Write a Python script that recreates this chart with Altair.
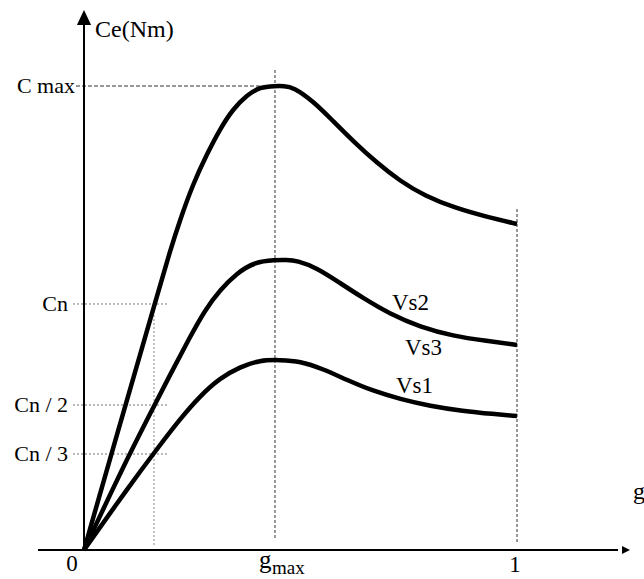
import altair as alt
import pandas as pd

# ---------------- data (slip g, torque C relative to Cmax) ----------------
top_g = [0.0, 0.0831, 0.1686, 0.1986, 0.2217, 0.2517, 0.2841, 0.3141, 0.3441, 0.3764,
         0.4065, 0.4411, 0.4619, 0.4827, 0.5289, 0.5751, 0.6212, 0.6767, 0.7298, 0.7875,
         0.8568, 0.9307, 1.0]
top_c = [0.0, 0.2716, 0.5474, 0.6444, 0.7112, 0.7888, 0.8534, 0.9073, 0.9504, 0.9806,
         0.9978, 1.0, 1.0, 0.9978, 0.9677, 0.9246, 0.8815, 0.8341, 0.7953, 0.7629,
         0.7371, 0.7177, 0.7026]

mid_g = [0.0, 0.0901, 0.1524, 0.1986, 0.2448, 0.2794, 0.3141, 0.3533, 0.3949, 0.4411,
         0.4665, 0.4919, 0.5381, 0.5912, 0.6443, 0.7067, 0.7760, 0.8522, 0.9307, 1.0]
mid_c = [0.0, 0.1789, 0.2931, 0.3772, 0.4591, 0.5172, 0.5603, 0.5970, 0.6207, 0.6250,
         0.6250, 0.6240, 0.6078, 0.5754, 0.5431, 0.5086, 0.4806, 0.4612, 0.4504, 0.4418]

low_g = [0.0, 0.1062, 0.1686, 0.2217, 0.2679, 0.3141, 0.3603, 0.4065, 0.4527, 0.4988,
         0.5520, 0.6074, 0.6674, 0.7298, 0.7991, 0.8753, 0.9446, 1.0]
low_c = [0.0, 0.1401, 0.2177, 0.2823, 0.3319, 0.3707, 0.3944, 0.4095, 0.4095, 0.4073,
         0.3901, 0.3664, 0.3427, 0.3254, 0.3103, 0.2996, 0.2931, 0.2888]

# reference torque levels and their labels
level_names = ["C max", "Cn", "Cn / 2", "Cn / 3"]
level_values = [1.0, 0.5302, 0.3125, 0.2069]

# slip references
g_small = 0.1617
g_max = 0.4411
g_one = 1.0

curve_labels = ["Vs2", "Vs3", "Vs1"]

# ---------------- layout (pixel -> data mapping) ----------------
W, H = 644, 579
OX, OY = 84.0, 550.0       # origin in pixels
SX, SY = 433.0, 464.0      # pixels per unit


def gx(px):
    return (px - OX) / SX


def cy(py):
    return (OY - py) / SY


XDOM = [gx(0), gx(W)]
YDOM = [cy(H), cy(0)]

xs = alt.Scale(domain=XDOM, nice=False, zero=False)
ys = alt.Scale(domain=YDOM, nice=False, zero=False)
FONT = "Liberation Serif"


def X(f="x"):
    return alt.X(f"{f}:Q", scale=xs, axis=None)


def Y(f="y"):
    return alt.Y(f"{f}:Q", scale=ys, axis=None)


# curves
rows = []
for name, gg, cc in [("top", top_g, top_c), ("mid", mid_g, mid_c), ("low", low_g, low_c)]:
    for a, b in zip(gg, cc):
        rows.append({"x": a, "y": b, "curve": name})
curves_df = pd.DataFrame(rows)

curves = alt.Chart(curves_df).mark_line(
    color="black", strokeWidth=4.5, interpolate="basis", strokeCap="butt", strokeJoin="round"
).encode(x=X(), y=Y(), detail="curve:N")

# horizontal reference lines
cmax_line = alt.Chart(pd.DataFrame({"x": [gx(76)], "x2": [gx(262)], "y": [level_values[0]]})).mark_rule(
    color="#333333", strokeWidth=1, strokeDash=[4, 2]
).encode(x=X(), x2="x2:Q", y=Y())

cn_df = pd.DataFrame({"x": [gx(73)] * 3, "x2": [gx(168)] * 3, "y": level_values[1:]})
cn_lines = alt.Chart(cn_df).mark_rule(color="#777777", strokeWidth=1, strokeDash=[2, 2]).encode(
    x=X(), x2="x2:Q", y=Y()
)

# vertical reference lines
v_small = alt.Chart(pd.DataFrame({"x": [g_small], "y": [cy(545)], "y2": [level_values[1]]})).mark_rule(
    color="#888888", strokeWidth=1, strokeDash=[2, 2]
).encode(x=X(), y=Y(), y2="y2:Q")

v_dark = alt.Chart(pd.DataFrame({"x": [g_max, g_one], "y": [cy(538), cy(542)], "y2": [cy(69), cy(208)]})).mark_rule(
    color="#333333", strokeWidth=1, strokeDash=[3, 2]
).encode(x=X(), y=Y(), y2="y2:Q")

# axes
x_axis = alt.Chart(pd.DataFrame({"x": [gx(38)], "x2": [gx(618)], "y": [0.0]})).mark_rule(
    color="black", strokeWidth=2
).encode(x=X(), x2="x2:Q", y=Y())
y_axis = alt.Chart(pd.DataFrame({"x": [0.0], "y": [cy(551)], "y2": [cy(22)]})).mark_rule(
    color="black", strokeWidth=2
).encode(x=X(), y=Y(), y2="y2:Q")

arrow_up = alt.Chart(pd.DataFrame({"x": [0.0], "y": [cy(10)]})).mark_point(
    shape="M0,0L-0.95,2L0.95,2Z", size=225, filled=True, color="black", opacity=1, strokeWidth=0
).encode(x=X(), y=Y())
arrow_right = alt.Chart(pd.DataFrame({"x": [gx(630)], "y": [0.0]})).mark_point(
    shape="M0,0L-2,-1L-2,1Z", size=64, filled=True, color="black", opacity=1, strokeWidth=0
).encode(x=X(), y=Y())

# y labels (right aligned)
ylab_df = pd.DataFrame({
    "x": [gx(75), gx(68), gx(68), gx(68)],
    "y": level_values,
    "t": level_names,
})
ylabels = alt.Chart(ylab_df).mark_text(
    font=FONT, fontSize=22, align="right", baseline="middle", color="black"
).encode(x=X(), y=Y(), text="t:N")

# left aligned labels
left_df = pd.DataFrame({
    "x": [gx(95), gx(392), gx(405), gx(396)],
    "y": [cy(30), cy(303), cy(348), cy(386)],
    "t": ["Ce(Nm)"] + curve_labels,
    "s": [24, 23, 23, 23],
})
left_labels = alt.Chart(left_df).mark_text(
    font=FONT, align="left", baseline="middle", color="black"
).encode(x=X(), y=Y(), text="t:N", size=alt.Size("s:Q", scale=None, legend=None))

# x labels
xlab_df = pd.DataFrame({"x": [gx(72), gx(515)], "y": [cy(564), cy(565)], "t": ["0", "1"]})
xlabels = alt.Chart(xlab_df).mark_text(
    font=FONT, fontSize=23, align="center", baseline="middle", color="black"
).encode(x=X(), y=Y(), text="t:N")

gmax_df = pd.DataFrame({
    "x": [gx(259), gx(272), gx(633)],
    "y": [cy(568), cy(574), cy(499)],
    "t": ["g", "max", "g"],
    "s": [25, 19, 24],
})
gmax_labels = alt.Chart(gmax_df).mark_text(
    font=FONT, align="left", baseline="alphabetic", color="black"
).encode(x=X(), y=Y(), text="t:N", size=alt.Size("s:Q", scale=None, legend=None))

chart = alt.layer(
    cmax_line, cn_lines, v_small, v_dark, x_axis, y_axis, arrow_up, arrow_right,
    curves, ylabels, left_labels, xlabels, gmax_labels
).properties(
    width=W, height=H, autosize=alt.AutoSizeParams(type="none"), padding=0, background="white"
).configure_view(stroke=None)

chart.save("out.html", embed_options={"renderer": "svg", "actions": False})
